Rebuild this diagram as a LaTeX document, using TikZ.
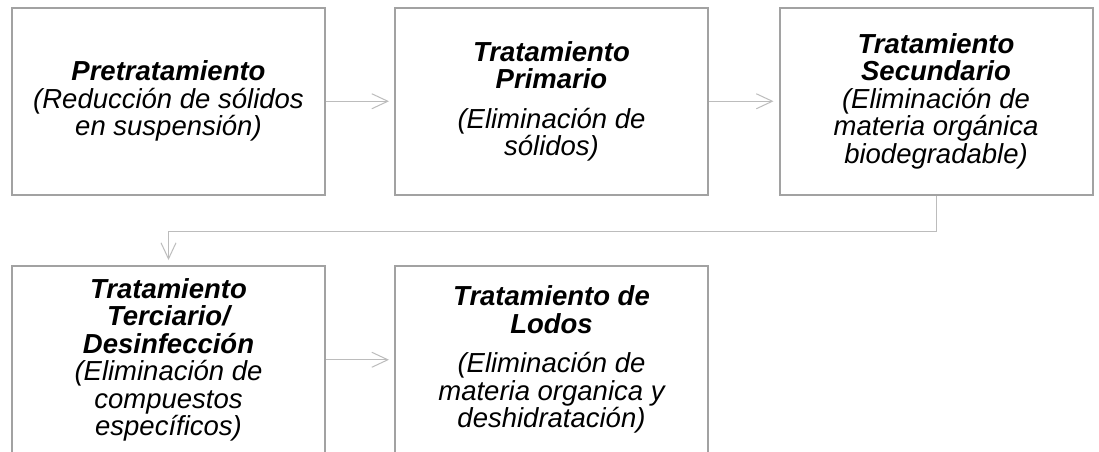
\documentclass[tikz,border=0pt]{standalone}
\usepackage{fontspec}
\setmainfont{Liberation Sans}
\usetikzlibrary{arrows.meta}
\definecolor{boxgray}{RGB}{162,162,162}
\definecolor{linegray}{RGB}{188,188,188}
\begin{document}
\begin{tikzpicture}[x=1pt,y=-1pt,
  stepbox/.style={draw=boxgray, line width=2pt, minimum width=313pt, minimum height=187.5pt,
    inner sep=0pt, align=center, font=\fontsize{27.5pt}{27.5pt}\selectfont\itshape},
  conn/.style={draw=linegray, line width=1pt, -{Straight Barb[length=16pt,width=15pt]}, shorten >=5pt}]
\useasboundingbox (0,0) rectangle (1099,451);
\clip (0,0) rectangle (1099,451);
\fill[white] (0,0) rectangle (1099,451);
\node[stepbox] (s1) at (168.5,101.25) {\textbf{Pretratamiento}\\(Reducción de sólidos\\en suspensión)};
\node[stepbox] (s2) at (551.5,101.25) {\textbf{Tratamiento}\\\textbf{Primario}\\[12pt](Eliminación de\\sólidos)};
\node[stepbox] (s3) at (936,101.25) {\textbf{Tratamiento}\\\textbf{Secundario}\\(Eliminación de\\materia orgánica\\biodegradable)};
\node[stepbox] (s4) at (168.5,359.75) {\textbf{Tratamiento}\\\textbf{Terciario/}\\\textbf{Desinfección}\\(Eliminación de\\compuestos\\específicos)};
\node[stepbox] (s5) at (551.5,359.75) {\textbf{Tratamiento de}\\\textbf{Lodos}\\[12pt](Eliminación de\\materia organica y\\deshidratación)};
\draw[conn] (s1.east) -- (s2.west);
\draw[conn] (s2.east) -- (s3.west);
\draw[conn] (s3.south) -- ++(0,35) -| (s4.north);
\draw[conn] (s4.east) -- (s5.west);
\end{tikzpicture}
\end{document}
